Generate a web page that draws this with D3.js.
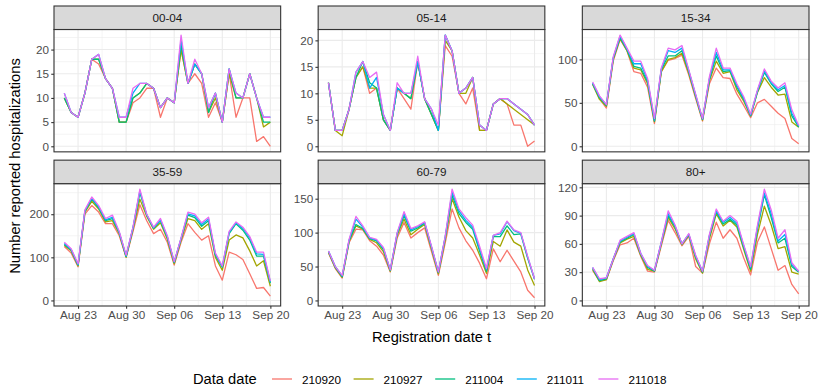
<!DOCTYPE html>
<html>
<head>
<meta charset="utf-8">
<script src="https://cdn.jsdelivr.net/npm/d3@7"></script>
<style>
  body { margin: 0; background: #fff; }
  text { font-family: "Liberation Sans", Arial, sans-serif; }
</style>
</head>
<body>
<div id="chart"></div>
<script>
// ---- Data
const dataDates = ['210920', '210927', '211004', '211011', '211018'];
const seriesColors = ['#F8766D', '#A3A500', '#00BF7D', '#00B0F6', '#E76BF3'];
const ageGroups = ['00-04', '05-14', '15-34', '35-59', '60-79', '80+'];

// registration dates t: Aug 21 .. Sep 20, 2021
const regDates = d3.timeDay.range(new Date(2021, 7, 21), new Date(2021, 8, 21));
const xTickDates = [new Date(2021, 7, 23), new Date(2021, 7, 30), new Date(2021, 8, 6), new Date(2021, 8, 13), new Date(2021, 8, 20)];
const xTickLabels = ['Aug 23', 'Aug 30', 'Sep 06', 'Sep 13', 'Sep 20'];

const yTicks = [
  [0, 5, 10, 15, 20],
  [0, 5, 10, 15, 20],
  [0, 50, 100],
  [0, 100, 200],
  [0, 50, 100, 150],
  [0, 30, 60, 90, 120]
];

// 00-04
const a0004_210920 = [10,7,6,11,18,17,14,12,5,5,9,10,12,12,6,10,9,20,13,15,13,6,9,5,15,6,10,10,1,2,0];
const a0004_210927 = [10,7,6,11,18,18,14,12,5,5,10,11,13,12,8,10,9,20,13,17,15,7,10,5,15,10,10,15,10,4,5];
const a0004_211004 = [10,7,6,11,18,18,14,12,5,5,10,11,13,12,8,10,9,21,13,17,15,7,11,5,16,10,10,15,10,5,5];
const a0004_211011 = [11,7,6,11,18,19,14,12,6,6,11,13,13,12,8,10,9,22,13,17,15,8,11,5,16,11,10,15,10,6,6];
const a0004_211018 = [11,7,6,11,18,19,14,12,6,6,12,13,13,12,8,10,9,23,13,18,15,8,11,5,16,11,10,15,10,6,6];
// 05-14
const a0514_210920 = [12,3,3,7,13,15,10,11,5,3,11,9,7,16,9,6,3,19,17,10,8,11,3,3,8,9,8,4,4,0,1];
const a0514_210927 = [12,3,2,7,13,15,11,11,5,3,11,10,9,16,9,6,3,20,18,10,10,13,3,3,8,9,8,7,6,5,4];
const a0514_211004 = [12,3,3,7,13,16,12,11,5,3,11,10,9,16,9,6,3,21,18,10,11,13,4,3,8,9,9,8,7,6,4];
const a0514_211011 = [12,3,3,7,14,16,11,13,6,3,11,10,10,16,9,7,3,21,18,10,11,13,4,3,8,9,9,8,7,6,4];
const a0514_211018 = [12,3,3,7,14,16,13,14,6,3,12,10,10,17,9,7,4,21,18,10,11,13,4,3,8,9,9,8,7,6,4];
// 15-34
const a1534_210920 = [72,55,44,98,123,110,86,84,68,26,86,99,101,105,82,55,29,72,90,79,78,60,47,33,50,54,46,38,32,9,3];
const a1534_210927 = [71,54,46,100,124,110,90,88,72,28,86,100,102,107,84,57,30,75,98,84,86,65,52,35,62,79,68,59,60,28,22];
const a1534_211004 = [72,56,47,101,125,111,92,90,74,29,88,104,104,110,86,58,31,77,104,86,87,68,54,35,63,85,72,63,68,35,22];
const a1534_211011 = [73,57,48,102,127,112,95,95,76,30,89,110,108,113,87,59,31,78,108,88,88,70,55,36,64,87,73,65,70,38,23];
const a1534_211018 = [74,58,48,103,128,113,98,98,78,32,90,113,111,116,88,60,32,80,113,90,90,72,57,37,65,89,75,67,73,42,24];
// 35-59
const a3559_210920 = [125,110,78,200,220,205,178,178,150,100,160,222,185,155,165,135,82,135,178,158,140,150,80,47,112,106,95,62,28,30,10];
const a3559_210927 = [128,115,80,205,230,212,182,185,155,100,165,235,195,165,180,142,85,140,190,185,165,178,100,70,140,152,145,115,80,92,33];
const a3559_211004 = [130,117,82,207,235,215,185,190,157,102,168,250,198,167,185,146,88,143,198,192,172,185,105,77,155,178,163,140,103,103,40];
const a3559_211011 = [132,118,83,208,237,217,187,193,158,103,169,254,199,168,187,148,89,144,201,196,176,189,107,78,158,180,167,145,108,107,43];
const a3559_211018 = [135,120,85,210,240,220,190,198,160,105,170,258,200,170,190,150,90,145,205,200,180,193,110,80,160,182,170,148,112,112,45];
// 60-79
const a6079_210920 = [70,47,33,85,105,104,88,80,67,42,92,115,92,100,107,72,37,85,135,107,88,74,55,32,76,57,74,58,42,15,4];
const a6079_210927 = [71,48,34,87,110,105,90,85,72,43,96,120,97,105,112,76,39,90,150,123,103,92,67,40,87,80,104,86,80,45,22];
const a6079_211004 = [72,49,35,88,112,106,91,88,75,44,98,125,102,107,114,78,41,93,155,128,115,105,73,43,94,94,110,97,98,62,31];
const a6079_211011 = [73,50,36,89,120,108,92,89,77,45,99,128,104,109,115,79,42,94,160,132,118,108,76,45,96,98,116,103,99,64,32];
const a6079_211018 = [73,50,37,90,124,110,93,90,78,45,100,131,106,110,116,80,42,95,164,135,122,111,80,47,96,100,117,104,100,65,32];
// 80+
const a80_210920 = [32,21,22,42,59,61,66,47,31,30,58,85,72,58,68,36,29,60,83,66,75,66,45,27,62,78,55,32,37,17,7];
const a80_210927 = [33,20,22,43,61,65,68,48,33,31,60,88,76,59,69,44,29,65,92,79,85,78,54,31,70,100,80,55,57,30,28];
const a80_211004 = [34,21,23,44,62,66,70,49,35,31,61,90,78,60,70,46,30,68,94,81,86,80,56,33,76,112,88,61,66,36,30];
const a80_211011 = [35,22,24,44,63,67,71,50,36,32,62,92,79,60,70,47,31,69,95,83,88,82,58,35,78,114,92,63,70,38,31];
const a80_211018 = [35,23,24,44,64,68,72,50,37,32,62,95,80,60,71,48,31,70,97,84,90,84,59,36,80,118,96,66,75,40,31];

const panelSeries = [
  [a0004_210920, a0004_210927, a0004_211004, a0004_211011, a0004_211018],
  [a0514_210920, a0514_210927, a0514_211004, a0514_211011, a0514_211018],
  [a1534_210920, a1534_210927, a1534_211004, a1534_211011, a1534_211018],
  [a3559_210920, a3559_210927, a3559_211004, a3559_211011, a3559_211018],
  [a6079_210920, a6079_210927, a6079_211004, a6079_211011, a6079_211018],
  [a80_210920, a80_210927, a80_211004, a80_211011, a80_211018]
];

// ---- Layout
const W = 819, H = 386;
const areaLeft = 54, areaRight = 809, areaTop = 6, areaBottom = 306;
const colGap = 37.5, rowGap = 8.3, stripH = 23.5;
const panelW = (areaRight - areaLeft - 2 * colGap) / 3;
const panelH = (areaBottom - areaTop - rowGap) / 2 - stripH;

const svg = d3.select('#chart').append('svg')
  .attr('width', W).attr('height', H);

// ---- Shared x scale (5% expansion like ggplot)
const day = 864e5;
const x0 = regDates[0].getTime(), x1 = regDates[regDates.length - 1].getTime();
const xPad = (x1 - x0) * 0.05;
const xScale = d3.scaleTime()
  .domain([new Date(x0 - xPad), new Date(x1 + xPad)])
  .range([0, panelW]);
const xMinor = [];
for (let i = -1; i < xTickDates.length; i++) {
  const a = i < 0 ? xTickDates[0].getTime() - 7 * day : xTickDates[i].getTime();
  const m = new Date(a + 3.5 * day);
  if (m >= xScale.domain()[0] && m <= xScale.domain()[1]) xMinor.push(m);
}

ageGroups.forEach((grp, p) => {
  const col = p % 3, row = Math.floor(p / 3);
  const px = areaLeft + col * (panelW + colGap);
  const sy = areaTop + row * (stripH + panelH + rowGap);
  const py = sy + stripH;

  const series = panelSeries[p];
  const maxV = d3.max(series, s => d3.max(s));
  const minV = Math.min(0, d3.min(series, s => d3.min(s)));
  const yPad = (maxV - minV) * 0.05;
  const yScale = d3.scaleLinear().domain([minV - yPad, maxV + yPad]).range([panelH, 0]);

  const ticks = yTicks[p];
  const step = ticks[1] - ticks[0];
  const yMinor = [ticks[0] - step / 2, ...ticks.map(t => t + step / 2)]
    .filter(v => v >= yScale.domain()[0] && v <= yScale.domain()[1]);

  const g = svg.append('g').attr('transform', `translate(${px},${py})`);

  // ---- Background grid
  g.append('rect').attr('width', panelW).attr('height', panelH).attr('fill', '#fff');
  g.selectAll('.ymin').data(yMinor).join('line')
    .attr('x1', 0).attr('x2', panelW)
    .attr('y1', d => yScale(d)).attr('y2', d => yScale(d))
    .attr('stroke', '#EBEBEB').attr('stroke-width', 0.55);
  g.selectAll('.xmin').data(xMinor).join('line')
    .attr('y1', 0).attr('y2', panelH)
    .attr('x1', d => xScale(d)).attr('x2', d => xScale(d))
    .attr('stroke', '#EBEBEB').attr('stroke-width', 0.55);
  g.selectAll('.ymaj').data(ticks).join('line')
    .attr('x1', 0).attr('x2', panelW)
    .attr('y1', d => yScale(d)).attr('y2', d => yScale(d))
    .attr('stroke', '#EBEBEB').attr('stroke-width', 1.1);
  g.selectAll('.xmaj').data(xTickDates).join('line')
    .attr('y1', 0).attr('y2', panelH)
    .attr('x1', d => xScale(d)).attr('x2', d => xScale(d))
    .attr('stroke', '#EBEBEB').attr('stroke-width', 1.1);

  // ---- Lines (oldest data date first, latest on top)
  const line = d3.line()
    .x((d, i) => xScale(regDates[i]))
    .y(d => yScale(d));
  g.selectAll('.series').data(series).join('path')
    .attr('d', d => line(d))
    .attr('fill', 'none')
    .attr('stroke', (d, i) => seriesColors[i])
    .attr('stroke-width', 1.3)
    .attr('stroke-linejoin', 'round');

  // ---- Panel border
  g.append('rect').attr('width', panelW).attr('height', panelH)
    .attr('fill', 'none').attr('stroke', '#333333').attr('stroke-width', 1.1);

  // ---- Strip
  svg.append('rect')
    .attr('x', px).attr('y', sy).attr('width', panelW).attr('height', stripH)
    .attr('fill', '#D9D9D9').attr('stroke', '#333333').attr('stroke-width', 1.1);
  svg.append('text')
    .attr('x', px + panelW / 2).attr('y', sy + stripH / 2)
    .attr('text-anchor', 'middle').attr('dominant-baseline', 'central')
    .attr('font-size', 11.7).attr('fill', '#1A1A1A')
    .text(grp);

  // ---- Y axis
  const yAxis = g.append('g')
    .call(d3.axisLeft(yScale).tickValues(ticks).tickSize(2.75).tickPadding(2.2));
  yAxis.select('.domain').remove();
  yAxis.selectAll('line').attr('stroke', '#333333').attr('stroke-width', 1.1);
  yAxis.selectAll('text').attr('font-size', 11.7).attr('fill', '#4D4D4D')
    .attr('font-family', '"Liberation Sans", Arial, sans-serif');

  // ---- X axis on bottom row only
  if (row === 1) {
    const xAxis = g.append('g').attr('transform', `translate(0,${panelH})`)
      .call(d3.axisBottom(xScale).tickValues(xTickDates)
        .tickFormat((d, i) => xTickLabels[i]).tickSize(2.75).tickPadding(2.2));
    xAxis.select('.domain').remove();
    xAxis.selectAll('line').attr('stroke', '#333333').attr('stroke-width', 1.1);
    xAxis.selectAll('text').attr('font-size', 11.7).attr('fill', '#4D4D4D')
      .attr('font-family', '"Liberation Sans", Arial, sans-serif');
  }
});

// ---- Axis titles
svg.append('text')
  .attr('x', (areaLeft + areaRight) / 2).attr('y', 342)
  .attr('text-anchor', 'middle').attr('font-size', 14.7).attr('fill', '#000')
  .text('Registration date t');
svg.append('text')
  .attr('transform', `translate(20,166) rotate(-90)`)
  .attr('text-anchor', 'middle').attr('font-size', 14.7).attr('fill', '#000')
  .text('Number reported hospitalizations');

// ---- Legend
const legY = 379;
svg.append('text')
  .attr('x', 193).attr('y', legY).attr('dominant-baseline', 'central')
  .attr('font-size', 14.7).attr('fill', '#000')
  .text('Data date');
const legItems = svg.selectAll('.leg').data(dataDates).join('g')
  .attr('transform', (d, i) => `translate(${272 + i * 81.6},${legY})`);
legItems.append('line')
  .attr('x1', 0).attr('x2', 20).attr('y1', 0).attr('y2', 0)
  .attr('stroke', (d, i) => seriesColors[i]).attr('stroke-width', 1.3);
legItems.append('text')
  .attr('x', 30).attr('y', 0).attr('dominant-baseline', 'central')
  .attr('font-size', 11.7).attr('fill', '#000')
  .text(d => d);
</script>
</body>
</html>
